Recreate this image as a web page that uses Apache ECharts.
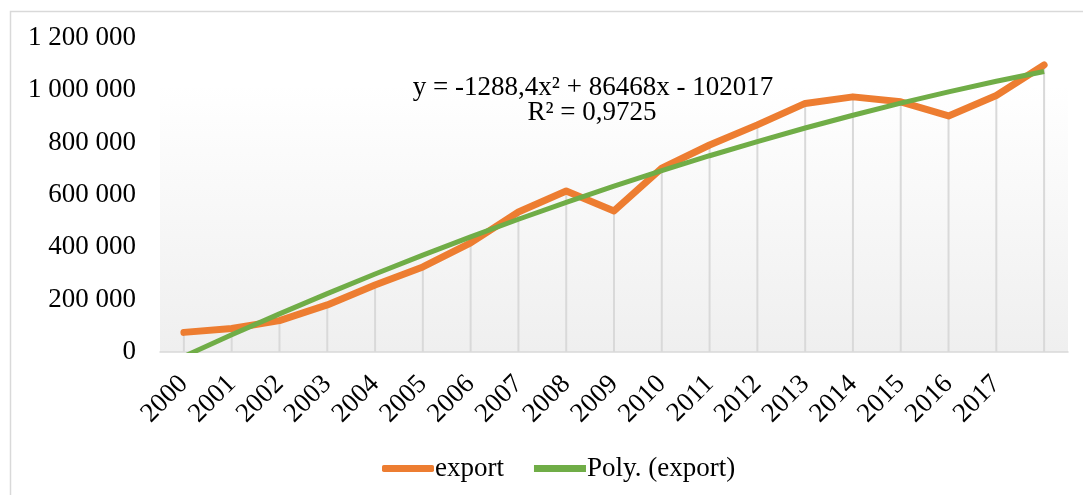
<!DOCTYPE html>
<html>
<head>
<meta charset="utf-8">
<script src="https://cdn.jsdelivr.net/npm/echarts@6/dist/echarts.min.js"></script>
<style>
html,body{margin:0;padding:0;background:#fff;}
#chart{width:1083px;height:495px;}
</style>
</head>
<body>
<div id="chart"></div>
<script>
const years = ['2000','2001','2002','2003','2004','2005','2006','2007','2008','2009','2010','2011','2012','2013','2014','2015','2016','2017',''];
const exportValues = [75000, 90000, 120000, 180000, 256000, 325000, 417000, 535000, 615000, 539000, 703000, 791000, 868000, 950000, 975000, 956000, 902000, 980000, 1097000];
const polyValues = [-16837, 65765, 145791, 223241, 298113, 370409, 440127, 507269, 571835, 633823, 693235, 750069, 804327, 856009, 904913, 951041, 994291, 1034665, 1072163];
const yTicks = [0, 200000, 400000, 600000, 800000, 1000000, 1200000];
const equationText = 'y = -1288,4x² + 86468x - 102017';
const r2Text = 'R² = 0,9725';

const FONT = '"Liberation Serif", "Times New Roman", serif';
const FS = 27;
function fmt(v) {
  return String(v).replace(/\B(?=(\d{3})+(?!\d))/g, ' ');
}

const chart = echarts.init(document.getElementById('chart'), null, {renderer: 'canvas'});
chart.setOption({
  animation: false,
  backgroundColor: '#ffffff',
  grid: {
    left: 160, right: 15, top: 38, bottom: 143,
    show: true,
    borderWidth: 0,
    backgroundColor: new echarts.graphic.LinearGradient(0, 0, 0, 1, [
      {offset: 0, color: '#ffffff'},
      {offset: 0.15, color: '#ffffff'},
      {offset: 1, color: '#efefef'}
    ])
  },
  xAxis: {
    type: 'category',
    data: years,
    boundaryGap: true,
    axisLine: {show: true, lineStyle: {color: '#d9d9d9', width: 1.5}},
    axisTick: {show: false},
    splitLine: {show: false},
    axisLabel: {
      interval: 0, rotate: 45, margin: 28,
      fontFamily: FONT, fontSize: FS, color: '#000'
    }
  },
  yAxis: {
    type: 'value',
    min: yTicks[0], max: yTicks[yTicks.length - 1], interval: yTicks[1] - yTicks[0],
    axisLine: {show: false},
    axisTick: {show: false},
    splitLine: {show: false},
    axisLabel: {
      margin: 24, fontFamily: FONT, fontSize: FS, color: '#000',
      formatter: fmt
    }
  },
  legend: {
    left: 377, top: 450,
    itemWidth: 52, itemHeight: 7, itemGap: 30,
    textStyle: {fontFamily: FONT, fontSize: FS, color: '#000', padding: [0,0,0,-4]},
    data: [
      {name: 'export', icon: 'roundRect', itemStyle: {color: '#ED7D31'}},
      {name: 'Poly. (export)', icon: 'rect', itemStyle: {color: '#70AD47'}}
    ]
  },
  series: [
    {
      name: 'drop',
      type: 'bar',
      data: exportValues,
      barWidth: 2,
      silent: true,
      itemStyle: {color: '#d9d9d9'},
      z: 1
    },
    {
      name: 'export',
      type: 'line',
      data: exportValues,
      showSymbol: false,
      symbol: 'none',
      lineStyle: {color: '#ED7D31', width: 7, cap: 'round', join: 'round'},
      itemStyle: {color: '#ED7D31'},
      z: 3
    },
    {
      name: 'Poly. (export)',
      type: 'line',
      data: polyValues,
      showSymbol: false,
      symbol: 'none',
      clip: true,
      lineStyle: {color: '#70AD47', width: 5},
      itemStyle: {color: '#70AD47'},
      z: 4
    }
  ],
  graphic: [
    {
      type: 'rect', silent: true,
      shape: {x: 10.5, y: 11.5, width: 1200, height: 600},
      style: {fill: null, stroke: '#d9d9d9', lineWidth: 1.5},
      z: 0
    },
    {
      type: 'rect', silent: true, zlevel: 1,
      shape: {x: 155, y: 353, width: 920, height: 6},
      style: {fill: '#ffffff'},
      z: 100
    },
    {
      type: 'text', silent: true, x: 593, y: 88, z: 10,
      style: {text: equationText, font: FS + 'px ' + FONT, fill: '#000', align: 'center', verticalAlign: 'middle'}
    },
    {
      type: 'text', silent: true, x: 592, y: 113, z: 10,
      style: {text: r2Text, font: FS + 'px ' + FONT, fill: '#000', align: 'center', verticalAlign: 'middle'}
    }
  ]
});
</script>
</body>
</html>
